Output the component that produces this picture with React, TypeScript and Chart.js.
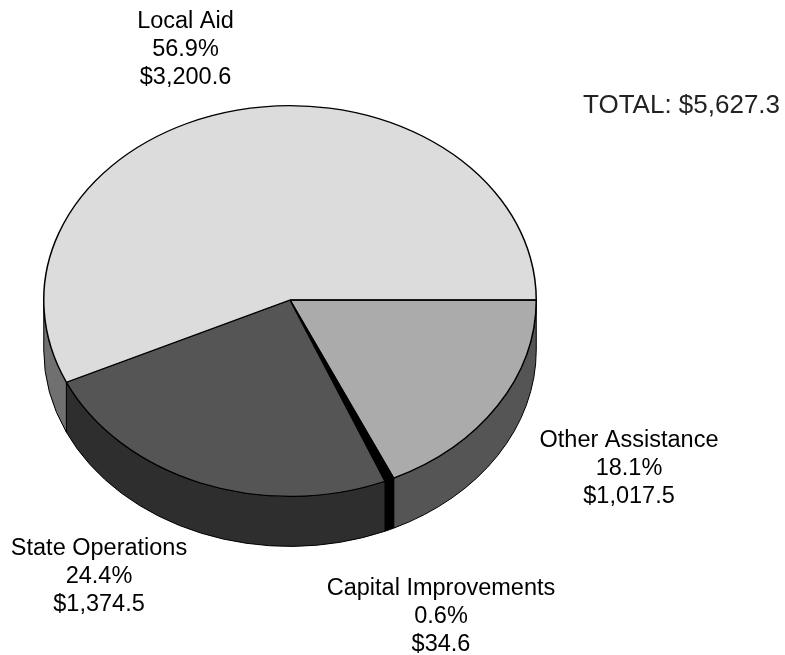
import React, { useEffect, useRef } from "react";
import { Chart, registerables } from "chart.js";

Chart.register(...registerables);

const categories = ["Other Assistance", "Capital Improvements", "State Operations", "Local Aid"];
const percentLabels = ["18.1%", "0.6%", "24.4%", "56.9%"];
const dollarLabels = ["$1,017.5", "$34.6", "$1,374.5", "$3,200.6"];
const values = [1017.5, 34.6, 1374.5, 3200.6];
const totalLabel = "TOTAL: $5,627.3";
const topColors = ["#ABABAB", "#000000", "#555555", "#DCDCDC"];
const sideColors = ["#555555", "#000000", "#2E2E2E", "#707070"];

const LOWER = 197 / 247;
const UPPER = 195 / 247;
const DEPTH = 50;
const FONT = '23.5px "Liberation Sans", Arial, sans-serif';
const TOTAL_FONT = '26px "Liberation Sans", Arial, sans-serif';
const LINE = 28;
const labelAnchors = [
  { x: 629, y: 447 },
  { x: 441, y: 595 },
  { x: 99, y: 555 },
  { x: 185.5, y: 28 },
];

const piePlugin = {
  id: "pie3d",
  beforeDatasetDraw(chart: any) {
    const ctx = chart.ctx;
    const meta = chart.getDatasetMeta(0);
    const first = meta.data[0];
    const cx = first.x;
    const cy = first.y;
    const r = first.outerRadius;

    meta.data.forEach((arc: any, i: number) => {
      const a0 = Math.max(arc.startAngle, 0);
      const a1 = Math.min(arc.endAngle, Math.PI);
      if (a1 <= a0) return;
      ctx.save();
      ctx.beginPath();
      ctx.ellipse(cx, cy, r, r * LOWER, 0, a0, a1);
      ctx.ellipse(cx, cy + DEPTH, r, r * LOWER, 0, a1, a0, true);
      ctx.closePath();
      ctx.fillStyle = sideColors[i];
      ctx.strokeStyle = "#000000";
      ctx.lineWidth = 1;
      ctx.fill();
      ctx.stroke();
      ctx.restore();
    });

    const w = chart.width;
    const h = chart.height;
    [
      { scale: UPPER, y: 0, height: cy },
      { scale: LOWER, y: cy, height: h - cy },
    ].forEach((half) => {
      ctx.save();
      ctx.beginPath();
      ctx.rect(0, half.y, w, half.height);
      ctx.clip();
      ctx.translate(0, cy);
      ctx.scale(1, half.scale);
      ctx.translate(0, -cy);
      meta.data.forEach((arc: any) => arc.draw(ctx));
      ctx.restore();
    });
    ctx.save();
    ctx.beginPath();
    ctx.moveTo(cx, cy);
    ctx.lineTo(cx + r, cy);
    ctx.strokeStyle = "#000000";
    ctx.lineWidth = 1.5;
    ctx.stroke();
    ctx.restore();
    return false;
  },
  afterDraw(chart: any) {
    const ctx = chart.ctx;
    ctx.save();
    ctx.font = FONT;
    ctx.fillStyle = "#000000";
    ctx.textAlign = "center";
    ctx.textBaseline = "alphabetic";
    categories.forEach((name, i) => {
      const p = labelAnchors[i];
      ctx.fillText(name, p.x, p.y);
      ctx.fillText(percentLabels[i], p.x, p.y + LINE);
      ctx.fillText(dollarLabels[i], p.x, p.y + LINE * 2);
    });
    ctx.font = TOTAL_FONT;
    ctx.fillStyle = "#222222";
    ctx.textAlign = "left";
    ctx.fillText(totalLabel, 583, 113);
    ctx.restore();
  },
};

export default function App() {
  const ref = useRef<HTMLCanvasElement>(null);
  useEffect(() => {
    const chart = new Chart(ref.current!, {
      type: "pie",
      data: {
        labels: categories,
        datasets: [
          {
            data: values,
            backgroundColor: topColors,
            borderColor: "#000000",
            borderWidth: 1.5,
          },
        ],
      },
      options: {
        responsive: false,
        animation: false,
        rotation: 90,
        layout: { padding: { left: 42, right: 247, top: 53, bottom: 108 } },
        plugins: { legend: { display: false }, tooltip: { enabled: false }, title: { display: false } },
      },
      plugins: [piePlugin],
    } as any);
    return () => chart.destroy();
  }, []);
  return (
    <div style={{ position: "absolute", left: 0, top: 0, width: 785, height: 655, background: "#fff" }}>
      <canvas ref={ref} width={785} height={655} style={{ display: "block" }} />
    </div>
  );
}
